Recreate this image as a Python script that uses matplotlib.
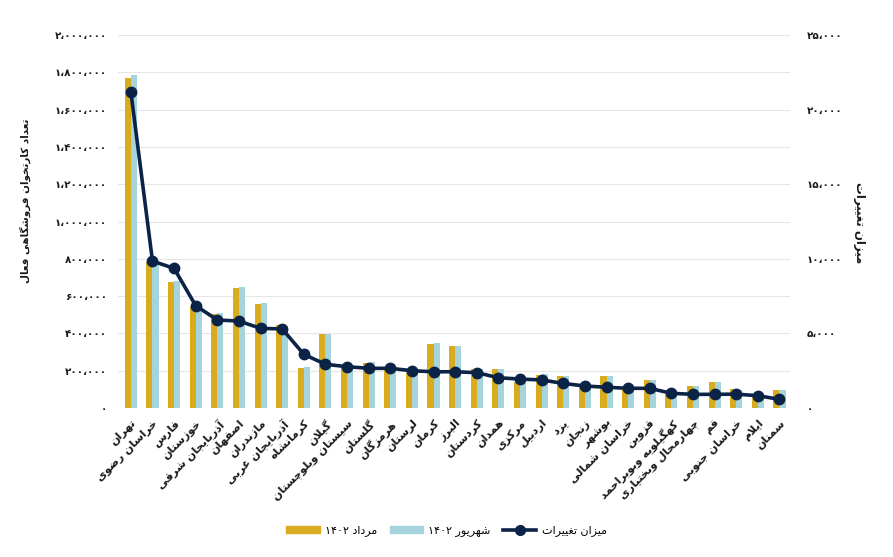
import re
import matplotlib
matplotlib.use("Agg")
import matplotlib.pyplot as plt
from matplotlib.lines import Line2D
from matplotlib.patches import Patch
import numpy as np

# ---- data ----
provinces = ["تهران", "خراسان رضوی", "فارس", "خوزستان", "آذربایجان شرقی", "اصفهان",
             "مازندران", "آذربایجان غربی", "کرمانشاه", "گیلان", "سیستان وبلوچستان",
             "گلستان", "هرمزگان", "لرستان", "کرمان", "البرز", "کردستان", "همدان",
             "مرکزی", "اردبیل", "یزد", "زنجان", "بوشهر", "خراسان شمالی", "قزوین",
             "کهگیلویه وبویراحمد", "چهارمحال وبختیاری", "قم", "خراسان جنوبی", "ایلام", "سمنان"]
mordad = [1768000, 784000, 677000, 543000, 504000, 642000, 558000, 445000, 216000,
          397000, 213000, 240000, 213000, 186000, 343000, 332000, 207000, 209000,
          141000, 177000, 172000, 115000, 172000, 100000, 150000, 70000, 118000,
          138000, 100000, 70000, 97000]
shahrivar = [1785000, 780000, 682000, 540000, 512000, 650000, 565000, 440000, 222000,
             397000, 210000, 248000, 212000, 200000, 350000, 332000, 207000, 209000,
             159000, 182000, 172000, 120000, 172000, 100000, 150000, 80000, 118000,
             138000, 98000, 72000, 97000]
change = [21200, 9850, 9360, 6860, 5900, 5830, 5340, 5300, 3600, 2930, 2770, 2660,
          2660, 2500, 2430, 2430, 2370, 2030, 1940, 1880, 1650, 1475, 1390, 1320,
          1320, 985, 915, 915, 930, 825, 580]
left_ticks = list(range(0, 2000001, 200000))
right_ticks = list(range(0, 25001, 5000))

label_mordad = "مرداد ۱۴۰۲"
label_shahrivar = "شهریور ۱۴۰۲"
label_change = "میزان تغییرات"
left_title = "تعداد کارتخوان فروشگاهی فعال"

# ---- minimal Persian shaping (matplotlib has no complex text layout) ----
FORMS = {
    'ا': ('\uFE8D', '\uFE8E', None, None), 'آ': ('\uFE81', '\uFE82', None, None),
    'ب': ('\uFE8F', '\uFE90', '\uFE91', '\uFE92'), 'پ': ('\uFB56', '\uFB57', '\uFB58', '\uFB59'),
    'ت': ('\uFE95', '\uFE96', '\uFE97', '\uFE98'), 'ث': ('\uFE99', '\uFE9A', '\uFE9B', '\uFE9C'),
    'ج': ('\uFE9D', '\uFE9E', '\uFE9F', '\uFEA0'), 'چ': ('\uFB7A', '\uFB7B', '\uFB7C', '\uFB7D'),
    'ح': ('\uFEA1', '\uFEA2', '\uFEA3', '\uFEA4'), 'خ': ('\uFEA5', '\uFEA6', '\uFEA7', '\uFEA8'),
    'د': ('\uFEA9', '\uFEAA', None, None), 'ذ': ('\uFEAB', '\uFEAC', None, None),
    'ر': ('\uFEAD', '\uFEAE', None, None), 'ز': ('\uFEAF', '\uFEB0', None, None),
    'ژ': ('\uFB8A', '\uFB8B', None, None),
    'س': ('\uFEB1', '\uFEB2', '\uFEB3', '\uFEB4'), 'ش': ('\uFEB5', '\uFEB6', '\uFEB7', '\uFEB8'),
    'ص': ('\uFEB9', '\uFEBA', '\uFEBB', '\uFEBC'), 'ض': ('\uFEBD', '\uFEBE', '\uFEBF', '\uFEC0'),
    'ط': ('\uFEC1', '\uFEC2', '\uFEC3', '\uFEC4'), 'ظ': ('\uFEC5', '\uFEC6', '\uFEC7', '\uFEC8'),
    'ع': ('\uFEC9', '\uFECA', '\uFECB', '\uFECC'), 'غ': ('\uFECD', '\uFECE', '\uFECF', '\uFED0'),
    'ف': ('\uFED1', '\uFED2', '\uFED3', '\uFED4'), 'ق': ('\uFED5', '\uFED6', '\uFED7', '\uFED8'),
    'ک': ('\uFB8E', '\uFB8F', '\uFB90', '\uFB91'), 'گ': ('\uFB92', '\uFB93', '\uFB94', '\uFB95'),
    'ل': ('\uFEDD', '\uFEDE', '\uFEDF', '\uFEE0'), 'م': ('\uFEE1', '\uFEE2', '\uFEE3', '\uFEE4'),
    'ن': ('\uFEE5', '\uFEE6', '\uFEE7', '\uFEE8'), 'و': ('\uFEED', '\uFEEE', None, None),
    'ه': ('\uFEE9', '\uFEEA', '\uFEEB', '\uFEEC'), 'ی': ('\uFBFC', '\uFBFD', '\uFBFE', '\uFBFF'),
}
LAM_ALEF = {'ا': ('\uFEFB', '\uFEFC'), 'آ': ('\uFEF5', '\uFEF6')}


def shape(text):
    res = []
    i = 0
    while i < len(text):
        c = text[i]
        if c not in FORMS:
            res.append(c)
            i += 1
            continue
        prev = text[i - 1] if i > 0 else None
        joins_prev = prev in FORMS and FORMS[prev][2] is not None
        if c == 'ل' and i + 1 < len(text) and text[i + 1] in LAM_ALEF:
            iso, fin = LAM_ALEF[text[i + 1]]
            res.append(fin if joins_prev else iso)
            i += 2
            continue
        nxt = text[i + 1] if i + 1 < len(text) else None
        joins_next = FORMS[c][2] is not None and nxt in FORMS
        iso, fin, ini, med = FORMS[c]
        if joins_prev and joins_next:
            res.append(med)
        elif joins_prev:
            res.append(fin)
        elif joins_next:
            res.append(ini)
        else:
            res.append(iso)
        i += 1
    return ''.join(res)


def fa(text):
    s = shape(text)[::-1]
    return re.sub(r'[0-9\u06F0-\u06F9]+', lambda m: m.group(0)[::-1], s)


def fa_num(v):
    s = f"{int(v):,}".replace(',', '\u060C')
    return s.translate(str.maketrans('0123456789', '\u06F0\u06F1\u06F2\u06F3\u06F4\u06F5\u06F6\u06F7\u06F8\u06F9'))


# ---- style ----
gold = "#D9AC1F"
blue = "#A6D4DD"
navy = "#0B2346"
text_c = "#1a1a1a"
plt.rcParams['font.family'] = ['DejaVu Sans']

fig = plt.figure(figsize=(8.93, 5.57), dpi=100)
ax = fig.add_axes([0.132, 0.2675, 0.753, 0.6695])
ax2 = ax.twinx()

x = np.arange(len(provinces))
w = 0.28
ax.bar(x - w / 2, mordad, width=w, color=gold, zorder=2)
ax.bar(x + w / 2, shahrivar, width=w, color=blue, zorder=2)
ax2.plot(x, change, color=navy, lw=2.6, marker='o', markersize=7.5, zorder=3)

ax.set_xlim(-0.6, len(provinces) - 0.5)
ax.set_ylim(0, 2000000)
ax2.set_ylim(0, 25000)

ax.set_yticks(left_ticks)
ax.set_yticklabels([fa_num(v) for v in left_ticks], fontsize=7.5, fontweight='bold', color=text_c)
ax2.set_yticks(right_ticks)
ax2.set_yticklabels([fa_num(v) for v in right_ticks], fontsize=7.5, fontweight='bold', color=text_c)
ax.tick_params(axis='y', length=0, pad=8)
ax2.tick_params(axis='y', length=0, pad=12)

ax.set_xticks(x)
ax.set_xticklabels([fa(p) for p in provinces], rotation=45, ha='right',
                   rotation_mode='anchor', fontsize=8, fontweight='bold', color=text_c)
ax.tick_params(axis='x', length=0, pad=7)

ax.grid(axis='y', color='#e6e6e6', lw=0.8, zorder=0)
ax.set_axisbelow(True)
for a in (ax, ax2):
    for s in a.spines.values():
        s.set_visible(False)

fig.text(0.028, 0.64, fa(left_title), rotation=90, ha='center', va='center',
         fontsize=7.5, fontweight='bold', color=text_c)
fig.text(0.963, 0.60, fa(label_change), rotation=270, ha='center', va='center',
         fontsize=8.5, fontweight='bold', color=text_c)

handles = [Patch(color=gold), Patch(color=blue),
           Line2D([], [], color=navy, lw=2.6, marker='o', markersize=7)]
fig.legend(handles, [fa(label_mordad), fa(label_shahrivar), fa(label_change)],
           loc='center', bbox_to_anchor=(0.50, 0.047), ncol=3, frameon=False,
           fontsize=8, handlelength=3.0, handleheight=0.5, columnspacing=1.1,
           handletextpad=0.5)

fig.savefig("out.png", dpi=100)
